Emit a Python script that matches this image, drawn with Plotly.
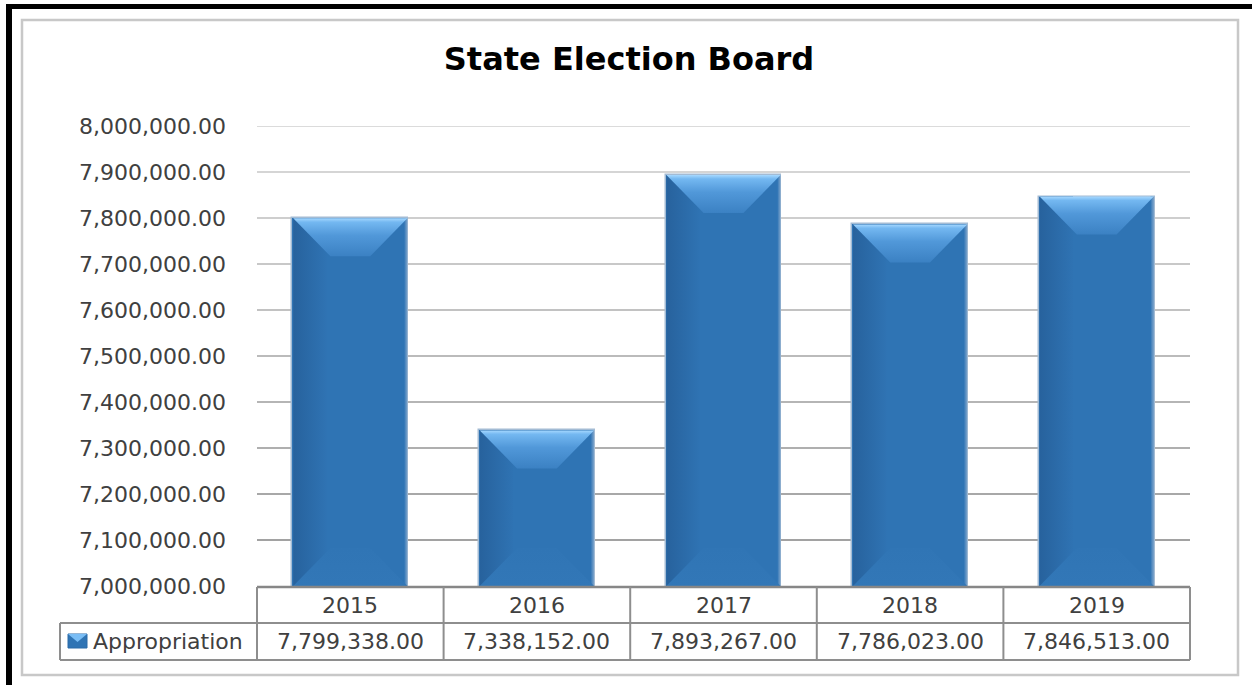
import plotly.graph_objects as go

# ---- data ----
years = ["2015", "2016", "2017", "2018", "2019"]
appropriation = [7799338.00, 7338152.00, 7893267.00, 7786023.00, 7846513.00]
series_name = "Appropriation"
y_tick_values = [7000000, 7100000, 7200000, 7300000, 7400000, 7500000,
                 7600000, 7700000, 7800000, 7900000, 8000000]
chart_title = "State Election Board"

# ---- geometry (pixels) ----
W, H = 1252, 685
PX0, PX1 = 257, 1190          # plot area left / right
PY0, PY1 = 126, 586           # plot area top / bottom
Y_MIN, Y_MAX = y_tick_values[0], y_tick_values[-1]
N = len(years)
BAR_W = 0.62
FONT = "DejaVu Sans"
TXT = "#404040"


def fx(p):
    return (p - PX0) / (PX1 - PX0)


def fy(p):
    return (PY1 - p) / (PY1 - PY0)


x_unit_px = (PX1 - PX0) / N
y_unit_per_px = (Y_MAX - Y_MIN) / (PY1 - PY0)
BEVEL = 38
dx = BEVEL / x_unit_px
dy = BEVEL * y_unit_per_px
edge = 4 / x_unit_px
hw = BAR_W / 2

xs = list(range(N))

fig = go.Figure()

fig.add_trace(go.Bar(
    x=xs, y=appropriation, width=BAR_W, name=series_name,
    marker=dict(color="#2f74b4", line=dict(color="#a3bbd4", width=1.5)),
    hoverinfo="skip", showlegend=False,
))


def poly(xp, yp, kind, scale):
    fig.add_trace(go.Scatter(
        x=xp + [xp[0]], y=yp + [yp[0]], mode="lines", fill="toself",
        line=dict(width=0), fillgradient=dict(type=kind, colorscale=scale),
        hoverinfo="skip", showlegend=False,
    ))


for c, v in zip(xs, appropriation):
    L, R = c - hw, c + hw
    # darker left side
    poly([L + 0.004, L + dx * 0.9, L + dx * 0.9, L + 0.004], [Y_MIN, Y_MIN, v, v],
         "horizontal", [[0, "#27629d"], [1, "#2f73b3"]])
    # light right rim
    poly([R - edge, R - 0.004, R - 0.004, R - edge], [Y_MIN, Y_MIN, v, v],
         "horizontal", [[0, "#3276b6"], [1, "#7fa5cb"]])
    # bottom bevel
    poly([L + 0.004, R - 0.004, R - dx, L + dx], [Y_MIN, Y_MIN, Y_MIN + dy, Y_MIN + dy],
         "vertical", [[0, "#3277b7"], [1, "#3075b5"]])
    # top bevel
    poly([L + 0.004, R - 0.004, R - dx, L + dx], [v, v, v - dy, v - dy],
         "vertical", [[0, "#3b81c3"], [0.55, "#5198d9"], [0.9, "#74b8f1"], [1, "#a6d8ff"]])

shapes = []

# horizontal gridlines, lighter toward the top
n_grid = len(y_tick_values) - 1
for k, t in enumerate(y_tick_values[1:]):
    f = k / (n_grid - 1)
    g = int(round(0xa2 + (0xdb - 0xa2) * f))
    col = f"rgb({g},{g},{g})"
    shapes.append(dict(type="line", xref="paper", yref="y", x0=0, x1=1, y0=t, y1=t,
                       line=dict(color=col, width=2), layer="below"))

# outer frame lines
shapes.append(dict(type="rect", xref="paper", yref="paper",
                   x0=fx(22), x1=fx(1238), y0=fy(675), y1=fy(20),
                   line=dict(color="#c8c8c8", width=2.5), layer="below"))
shapes.append(dict(type="rect", xref="paper", yref="paper",
                   x0=fx(6), x1=fx(1260), y0=fy(9), y1=fy(4),
                   line=dict(width=0), fillcolor="#000000"))
shapes.append(dict(type="rect", xref="paper", yref="paper",
                   x0=fx(6), x1=fx(12), y0=fy(700), y1=fy(4),
                   line=dict(width=0), fillcolor="#000000"))

# data table grid
TBL = "#8e8e8e"
R0, R1, R2 = 587, 623, 660
col_edges = [PX0 + i * x_unit_px for i in range(N + 1)]
shapes.append(dict(type="line", xref="paper", yref="paper", x0=0, x1=1,
                   y0=fy(R0), y1=fy(R0), line=dict(color="#878787", width=2.5)))
for yy in (R1, R2):
    shapes.append(dict(type="line", xref="paper", yref="paper", x0=fx(60), x1=1,
                       y0=fy(yy), y1=fy(yy), line=dict(color=TBL, width=2)))
for xe in col_edges:
    shapes.append(dict(type="line", xref="paper", yref="paper", x0=fx(xe), x1=fx(xe),
                       y0=fy(R0), y1=fy(R2), line=dict(color=TBL, width=2)))
shapes.append(dict(type="line", xref="paper", yref="paper", x0=fx(60), x1=fx(60),
                   y0=fy(R1), y1=fy(R2), line=dict(color=TBL, width=2)))

# legend key
shapes.append(dict(type="rect", xref="paper", yref="paper", x0=fx(68), x1=fx(87),
                   y0=fy(648), y1=fy(634), line=dict(color="#2a6aa8", width=1),
                   fillcolor="#2f74b4"))
shapes.append(dict(type="path", xref="paper", yref="paper",
                   path=f"M {fx(68)},{fy(634)} L {fx(87)},{fy(634)} L {fx(77.5)},{fy(642)} Z",
                   line=dict(width=0), fillcolor="#79bdf5"))

cell_font = dict(family=FONT, size=22, color=TXT)
annotations = []
for c, yr, v in zip(xs, years, appropriation):
    annotations.append(dict(x=c, y=fy((R0 + R1) / 2), xref="x", yref="paper", text=yr,
                            showarrow=False, xanchor="center", yanchor="middle",
                            font=cell_font))
    annotations.append(dict(x=c, y=fy((R1 + R2) / 2), xref="x", yref="paper",
                            text=f"{v:,.2f}", showarrow=False, xanchor="center",
                            yanchor="middle", font=cell_font))
annotations.append(dict(x=fx(91), y=fy((R1 + R2) / 2), xref="paper", yref="paper",
                        text=series_name, showarrow=False, xanchor="left",
                        yanchor="middle", font=cell_font))

fig.update_layout(
    width=W, height=H,
    margin=dict(l=PX0, r=W - PX1, t=PY0, b=H - PY1, pad=0),
    paper_bgcolor="white", plot_bgcolor="white",
    title=dict(text=f"<b>{chart_title}</b>", xref="container", yref="container",
               x=629 / W, y=1 - 59 / H, xanchor="center", yanchor="middle",
               font=dict(family=FONT, size=32, color="#000000")),
    xaxis=dict(range=[-0.5, N - 0.5], showticklabels=False, showgrid=False,
               zeroline=False, showline=False, fixedrange=True),
    yaxis=dict(range=[Y_MIN, Y_MAX], tickvals=y_tick_values, tickformat=",.2f",
               showgrid=False, zeroline=False, showline=False, ticks="",
               ticklabelstandoff=30,
               tickfont=dict(family=FONT, size=22, color=TXT), fixedrange=True),
    shapes=shapes, annotations=annotations,
    showlegend=False, bargap=0,
)

fig.write_html("out.html")
